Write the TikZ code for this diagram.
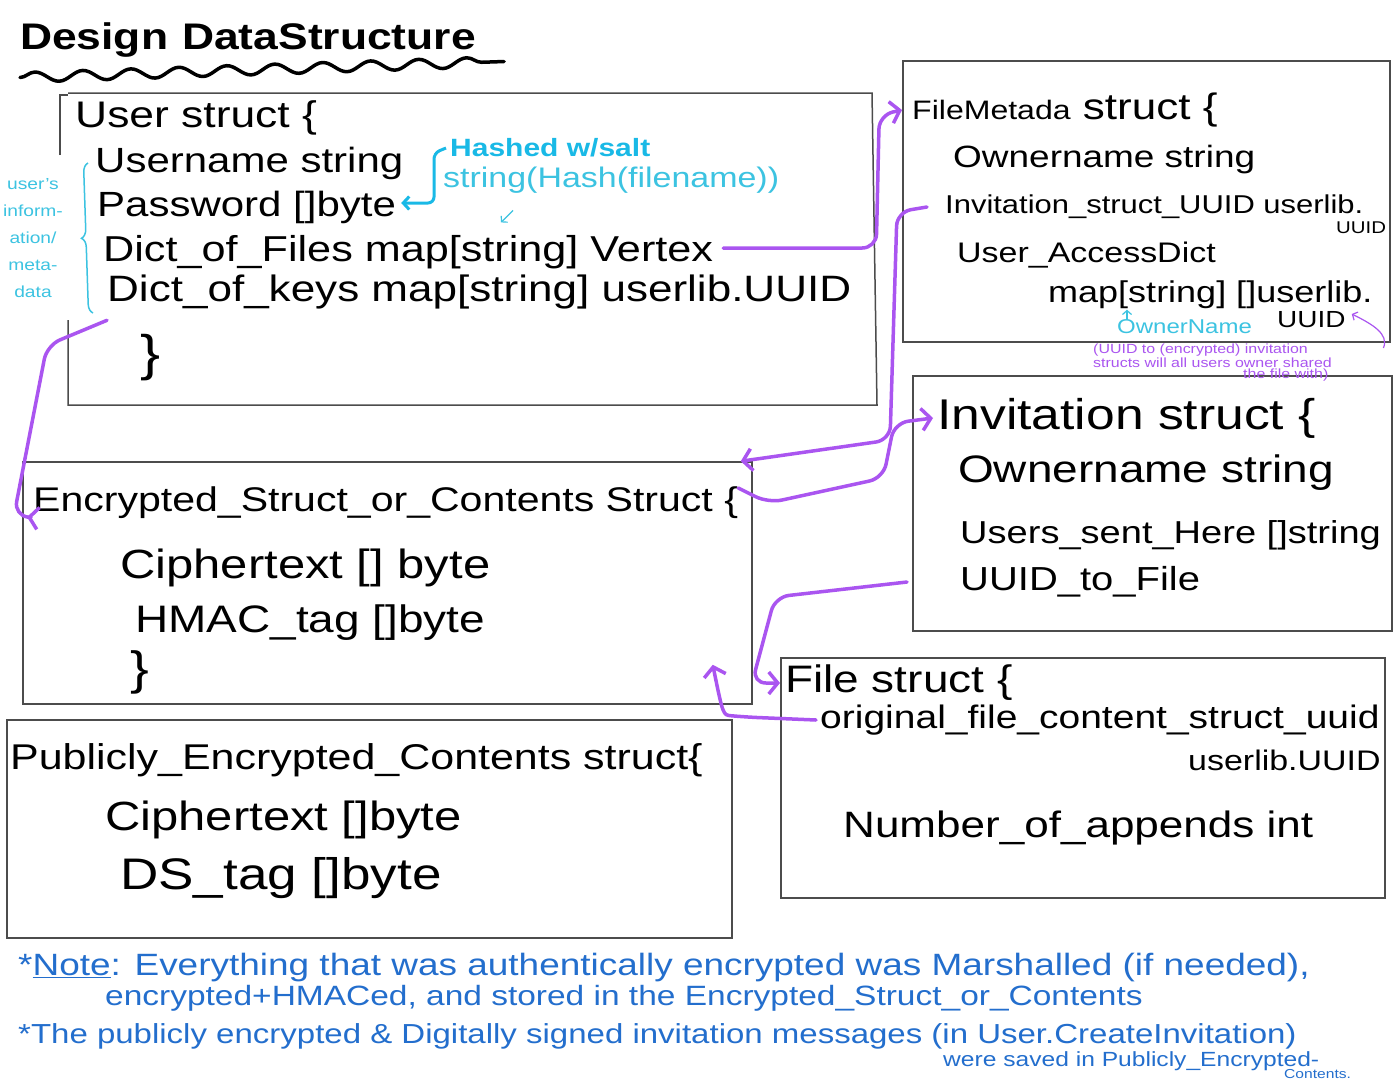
\documentclass[tikz,border=0pt]{standalone}
\usepackage{fontspec}
\setmainfont[FakeStretch=1.2]{Liberation Sans}
\usetikzlibrary{arrows.meta,fit,decorations.pathmorphing,decorations.pathreplacing}

\definecolor{ptrpurple}{RGB}{170,85,240}
\definecolor{notecyan}{RGB}{60,195,225}
\definecolor{saltcyan}{RGB}{25,185,230}
\definecolor{noteblue}{RGB}{35,110,205}
\newcommand{\fsz}[1]{\fontsize{#1}{#1}\selectfont}

\tikzset{
  structbox/.style={draw=black!70, line width=1.5pt, inner sep=0pt},
  field/.style={anchor=west, inner sep=0pt},
  ptr/.style={draw=ptrpurple, line width=3.5pt, rounded corners=14pt, line cap=round,
    -{Straight Barb[length=9pt,width=22pt]}},
  thinptr/.style={line width=1.2pt, -{Straight Barb[length=4pt,width=9pt]}},
}

\begin{document}
\begin{tikzpicture}[x=1pt,y=-1pt]
\path[use as bounding box, fill=white] (0,0) rectangle (1396,1079);

% title
\node[field, font=\fsz{37}\bfseries] (title) at (20,40) {Design\hspace{14pt}DataStructure};
\draw[line width=3.5pt, line cap=round, decorate, decoration={snake, segment length=48pt, amplitude=5pt}]
  ([yshift=-20]title.south west) -- ([shift={(28,4)}]title.south east);

% boxes
\draw[structbox] (60,155) -- (60,95) -- (68,95);
\draw[structbox] (68,320) -- (68,405) -- (877,405) -- (872,93) -- (68,93);
\node[structbox, fit={(903,61) (1390,342)}] (fmbox) {};
\node[structbox, fit={(913,376) (1392,631)}] (invbox) {};
\node[structbox, fit={(23,462) (752,704)}] (encbox) {};
\node[structbox, fit={(781,658) (1385,898)}] (filebox) {};
\node[structbox, fit={(7,720) (732,938)}] (pubbox) {};

% User struct
\node[field, font=\fsz{37}] (userhead) at (75,118) {User struct \{};
\node[field, font=\fsz{35}] (uname) at (95,163) {Username string};
\node[field, font=\fsz{35}] (pw) at (97,207) {Password []byte};
\node[field, font=\fsz{36}] (files) at (103,252) {Dict\_of\_Files map[string] Vertex};
\node[field, font=\fsz{36.7}] (keys) at (107,292) {Dict\_of\_keys map[string] userlib.UUID};
\node[field, font=\fsz{50}] (userclose) at (140,358) {\}};

\node[font=\fontsize{16}{27}\selectfont, text=notecyan, align=center] (info) at (33,238)
  {user's\\inform-\\ation/\\meta-\\data};
\draw[notecyan, line width=1.5pt, decorate, decoration={brace, amplitude=9pt}] (93,313) -- (88,163);

\node[field, font=\fsz{25}\bfseries, text=saltcyan] (salt) at (450,148) {Hashed w/salt};
\node[field, font=\fsz{28.3}, text=notecyan] (hashfn) at (443,180) {string(Hash(filename))};
\draw[draw=saltcyan, line width=3pt, rounded corners=6pt, -{Straight Barb[length=6pt,width=13pt]}]
  ([xshift=-4]salt.west) -- ++(-12,5) |- ([xshift=5,yshift=4]pw.east);
\draw[notecyan, thinptr] ([xshift=70,yshift=-17]hashfn.south west) -- ++(-12,12);

% FileMetadata struct
\node[field] (fmhead) at (912,110) {\fsz{26.7}FileMetada\fsz{36.7} struct \{};
\node[field, font=\fsz{30.8}] (fmowner) at (953,160) {Ownername string};
\node[field, font=\fsz{25.8}] (fminv) at (945,207) {Invitation\_struct\_UUID userlib.};
\node[field, font=\fsz{17}] (fminvuuid) at (1336,228) {UUID};
\node[field, font=\fsz{28.3}] (fmaccess) at (957,255) {User\_AccessDict};
\node[field, font=\fsz{30}] (fmmap) at (1048,295) {map[string] []userlib.};
\node[field, font=\fsz{23.3}] (fmuuid) at (1277,320) {UUID};
\node[field, font=\fsz{20}, text=notecyan] (ownername) at (1117,327) {OwnerName};
\draw[notecyan, thinptr] ([xshift=10]ownername.north west) -- ++(0,-10);
\node[anchor=north west, inner sep=0pt, text width=290pt, align=left, text=ptrpurple,
  font=\fontsize{13.3}{11}\selectfont] (sharenote) at (1093,344)
  {(UUID to (encrypted) invitation\\structs will all users owner shared\\\hspace*{150pt}the file with)};
\draw[ptrpurple, thinptr] ([yshift=-4]sharenote.north east) .. controls +(6,-14) and (1372,324) .. ([shift={(6,-6)}]fmuuid.east);

% Invitation struct
\node[field, font=\fsz{43}] (invhead) at (937,418) {Invitation struct \{};
\node[field, font=\fsz{38.3}] (invowner) at (958,473) {Ownername string};
\node[field, font=\fsz{31.7}] (invusers) at (960,535) {Users\_sent\_Here []string};
\node[field, font=\fsz{33.3}] (invfile) at (960,582) {UUID\_to\_File};

% Encrypted_Struct_or_Contents struct
\node[field, font=\fsz{34.2}] (enchead) at (33,503) {Encrypted\_Struct\_or\_Contents Struct \{};
\node[field, font=\fsz{40.8}] (enccipher) at (120,568) {Ciphertext [] byte};
\node[field, font=\fsz{38.3}] (enchmac) at (135,623) {HMAC\_tag []byte};
\node[field, font=\fsz{46.7}] (encclose) at (130,672) {\}};

% File struct
\node[field, font=\fsz{38.3}] (filehead) at (785,683) {File struct \{};
\node[field, font=\fsz{32.5}] (fileorig) at (820,720) {original\_file\_content\_struct\_uuid};
\node[field, font=\fsz{28.3}] (fileuuid) at (1188,760) {userlib.UUID};
\node[field, font=\fsz{36.7}] (fileappends) at (843,828) {Number\_of\_appends int};

% Publicly_Encrypted_Contents struct
\node[field, font=\fsz{35.8}] (pubhead) at (10,760) {Publicly\_Encrypted\_Contents struct\{};
\node[field, font=\fsz{40.8}] (pubcipher) at (105,820) {Ciphertext []byte};
\node[field, font=\fsz{44.2}] (pubds) at (120,878) {DS\_tag []byte};

% notes
\node[field, font=\fsz{30.8}, text=noteblue] (note1) at (18,968)
  {*\underline{Note}: Everything that was authentically encrypted was Marshalled (if needed),};
\node[field, font=\fsz{27.9}, text=noteblue] (note2) at (105,998)
  {encrypted+HMACed, and stored in the Encrypted\_Struct\_or\_Contents};
\node[field, font=\fsz{27.5}, text=noteblue] (note3) at (18,1036)
  {*The publicly encrypted \& Digitally signed invitation messages (in User.CreateInvitation)};
\node[field, font=\fsz{20.5}, text=noteblue] (note4) at (943,1061) {were saved in Publicly\_Encrypted-};
\node[field, font=\fsz{13}, text=noteblue] (note5) at (1284,1074) {Contents.};

% pointers
\draw[ptr] ([xshift=10,yshift=4]files.east) -- ++(153,0) -- ++(3,-133) -- ([xshift=-10]fmhead.west);
\draw[ptr] ([xshift=-18]fminv.west) -- ++(-30,5) -- ++(-7,228) -- ([xshift=-12]encbox.north east);
\draw[ptr] ([yshift=15]enchead.east) -- ++(30,15) -- ++(115,-25) -- ++(11,-55) -- ([xshift=-4]invhead.west);
\draw[ptr] ([xshift=-53]invfile.west) -- ++(-132,15) -- ++(-23,86) -- ([xshift=-5]filehead.west);
\draw[ptr] ([xshift=-4]fileorig.west) -- ++(-71,-3) .. controls +(-22,-2) .. ([shift={(-40,-40)}]encbox.south east);
\draw[ptr] ([yshift=-11]keys.south west) -- ++(-60,25) -- ++(-33,170) -- ([shift={(-6,14)}]enchead.west);
\end{tikzpicture}
\end{document}
